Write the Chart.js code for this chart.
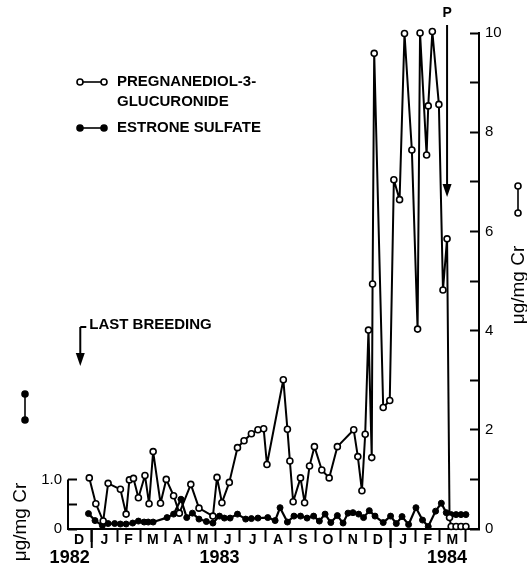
<!DOCTYPE html>
<html>
<head>
<meta charset="utf-8">
<script src="https://cdn.jsdelivr.net/npm/chart.js@4.4.1/dist/chart.umd.min.js"></script>
<style>
  html, body { margin: 0; padding: 0; background: #fff; }
  canvas { display: block; }
</style>
</head>
<body>
<canvas id="chart" width="527" height="572"></canvas>
<script>
// --- DATA ---
const pdgDates = [
  "1982-12-29", "1983-01-06", "1983-01-15", "1983-01-21", "1983-02-05", "1983-02-12",
  "1983-02-16", "1983-02-21", "1983-02-27", "1983-03-07", "1983-03-12", "1983-03-17",
  "1983-03-26", "1983-04-02", "1983-04-11", "1983-04-18", "1983-05-02", "1983-05-12",
  "1983-05-29", "1983-06-03", "1983-06-09", "1983-06-18", "1983-06-28", "1983-07-06",
  "1983-07-15", "1983-07-23", "1983-07-30", "1983-08-03", "1983-08-23", "1983-08-28",
  "1983-08-31", "1983-09-04", "1983-09-13", "1983-09-18", "1983-09-24", "1983-09-30",
  "1983-10-09", "1983-10-18", "1983-10-28", "1983-11-17", "1983-11-22", "1983-11-27",
  "1983-12-01", "1983-12-05", "1983-12-09", "1983-12-10", "1983-12-12", "1983-12-23",
  "1983-12-31", "1984-01-05", "1984-01-12", "1984-01-18", "1984-01-27", "1984-02-03",
  "1984-02-06", "1984-02-14", "1984-02-16", "1984-02-21", "1984-02-29", "1984-03-05",
  "1984-03-10", "1984-03-13", "1984-03-15", "1984-03-21", "1984-03-27", "1984-04-02",
];
const pdgValues = [
  1.03, 0.51, 0.16, 0.92, 0.80, 0.30,
  0.99, 1.02, 0.63, 1.08, 0.51, 1.56,
  0.52, 1.00, 0.67, 0.32, 0.90, 0.42,
  0.26, 1.04, 0.53, 0.94, 1.64, 1.78,
  1.92, 2.00, 2.02, 1.30, 3.01, 2.01,
  1.37, 0.55, 1.03, 0.53, 1.27, 1.66,
  1.19, 1.03, 1.66, 2.00, 1.46, 0.77,
  1.91, 4.01, 1.44, 4.94, 9.59, 2.45,
  2.59, 7.04, 6.64, 9.99, 7.64, 4.03,
  10.0, 7.54, 8.53, 10.03, 8.56, 4.82,
  5.85, 0.23, 0.05, 0.05, 0.05, 0.05,
];

const e1sDates = [
  "1982-12-28", "1983-01-05", "1983-01-14", "1983-01-21", "1983-01-29", "1983-02-05",
  "1983-02-12", "1983-02-20", "1983-02-27", "1983-03-06", "1983-03-11", "1983-03-17",
  "1983-04-03", "1983-04-11", "1983-04-20", "1983-04-27", "1983-05-04", "1983-05-12",
  "1983-05-21", "1983-05-29", "1983-06-06", "1983-06-12", "1983-06-19", "1983-06-28",
  "1983-07-08", "1983-07-15", "1983-07-23", "1983-08-04", "1983-08-13", "1983-08-19",
  "1983-08-28", "1983-09-05", "1983-09-13", "1983-09-21", "1983-09-29", "1983-10-06",
  "1983-10-13", "1983-10-20", "1983-10-28", "1983-11-04", "1983-11-10", "1983-11-16",
  "1983-11-23", "1983-11-29", "1983-12-06", "1983-12-13", "1983-12-23", "1984-01-01",
  "1984-01-08", "1984-01-15", "1984-01-23", "1984-02-01", "1984-02-09", "1984-02-16",
  "1984-02-25", "1984-03-03", "1984-03-09", "1984-03-15", "1984-03-21", "1984-03-27",
  "1984-04-02",
];
const e1sValues = [
  0.31, 0.17, 0.07, 0.11, 0.11, 0.10,
  0.10, 0.12, 0.16, 0.14, 0.14, 0.14,
  0.23, 0.30, 0.60, 0.23, 0.32, 0.20,
  0.15, 0.12, 0.26, 0.22, 0.22, 0.30,
  0.20, 0.21, 0.22, 0.23, 0.17, 0.43,
  0.14, 0.26, 0.26, 0.22, 0.26, 0.16,
  0.30, 0.13, 0.27, 0.12, 0.32, 0.33,
  0.30, 0.23, 0.37, 0.26, 0.13, 0.26,
  0.11, 0.25, 0.09, 0.43, 0.18, 0.05,
  0.36, 0.52, 0.33, 0.29, 0.29, 0.29,
  0.29,
];

const monthLetters = ["D", "J", "F", "M", "A", "M", "J", "J", "A", "S", "O", "N", "D", "J", "F", "M"];
const yearLabels = ["1982", "1983", "1984"];
const yearLabelDates = ["1982-12-05", "1983-06-06", "1984-03-10"];
const leftTickValues = [0, 0.5, 1.0];
const lastBreedingDate = "1982-12-18";
const parturitionDate = "1984-03-10";

// --- HELPERS ---
const ORIGIN = Date.parse("1982-12-01");
const dayOf = (s) => (Date.parse(s) - ORIGIN) / 864e5;

const X_MIN = 2;
const X_MAX = 504;

const monthStarts = [];
for (let i = 0; i <= monthLetters.length; i++) {
  monthStarts.push((Date.UTC(1982, 11 + i, 1) - ORIGIN) / 864e5);
}
const monthMids = monthLetters.map((_, i) => (monthStarts[i] + monthStarts[i + 1]) / 2);
const midLabel = new Map(monthMids.map((m, i) => [m, monthLetters[i]]));
const yearStarts = [dayOf("1983-01-01"), dayOf("1984-01-01")];

const FONT = "Liberation Sans";

function arrowDown(ctx, x, yTop, yTip) {
  ctx.beginPath();
  ctx.moveTo(x, yTop);
  ctx.lineTo(x, yTip - 8);
  ctx.stroke();
  ctx.beginPath();
  ctx.moveTo(x - 4.5, yTip - 13);
  ctx.lineTo(x + 4.5, yTip - 13);
  ctx.lineTo(x, yTip);
  ctx.closePath();
  ctx.fill();
}

function dot(ctx, x, y, filled) {
  ctx.beginPath();
  ctx.arc(x, y, 3, 0, Math.PI * 2);
  ctx.fillStyle = filled ? "#000" : "#fff";
  ctx.fill();
  ctx.stroke();
  ctx.fillStyle = "#000";
}

// extra annotations: legend, arrows, axis titles, short left axis
const decorations = {
  id: "decorations",
  afterDraw(chart) {
    const { ctx, chartArea, scales } = chart;
    const xs = scales.x;
    const ys = scales.y;
    ctx.save();
    ctx.strokeStyle = "#000";
    ctx.fillStyle = "#000";
    ctx.lineWidth = 2;

    // left axis only runs 0 -> 1.0
    ctx.beginPath();
    ctx.moveTo(chartArea.left, ys.getPixelForValue(0) + 1);
    ctx.lineTo(chartArea.left, ys.getPixelForValue(1));
    ctx.stroke();

    // longer ticks at year boundaries
    yearStarts.forEach((d) => {
      const px = xs.getPixelForValue(d);
      ctx.beginPath();
      ctx.moveTo(px, chartArea.bottom);
      ctx.lineTo(px, chartArea.bottom + 19);
      ctx.stroke();
    });

    // legend
    ctx.font = `bold 15px "${FONT}"`;
    ctx.textBaseline = "middle";
    ctx.textAlign = "left";
    ctx.lineWidth = 1.6;
    ctx.beginPath();
    ctx.moveTo(80, 82);
    ctx.lineTo(104, 82);
    ctx.stroke();
    dot(ctx, 80, 82, false);
    dot(ctx, 104, 82, false);
    ctx.fillText("PREGNANEDIOL-3-", 117, 82);
    ctx.fillText("GLUCURONIDE", 117, 102);
    ctx.beginPath();
    ctx.moveTo(80, 128);
    ctx.lineTo(104, 128);
    ctx.stroke();
    dot(ctx, 80, 128, true);
    dot(ctx, 104, 128, true);
    ctx.fillText("ESTRONE SULFATE", 117, 128);

    // last breeding arrow
    ctx.lineWidth = 2;
    const lbx = xs.getPixelForValue(dayOf(lastBreedingDate));
    ctx.beginPath();
    ctx.moveTo(lbx + 6, 327);
    ctx.lineTo(lbx, 327);
    ctx.stroke();
    arrowDown(ctx, lbx, 327, 366);
    ctx.fillText("LAST BREEDING", lbx + 9, 325);

    // parturition arrow
    const px = xs.getPixelForValue(dayOf(parturitionDate));
    arrowDown(ctx, px, 25, 197);
    ctx.textAlign = "center";
    ctx.font = `bold 14px "${FONT}"`;
    ctx.fillText("P", px, 13);

    // axis series glyphs
    ctx.lineWidth = 1.6;
    ctx.beginPath();
    ctx.moveTo(518, 186);
    ctx.lineTo(518, 213);
    ctx.stroke();
    dot(ctx, 518, 186, false);
    dot(ctx, 518, 213, false);
    ctx.beginPath();
    ctx.moveTo(25, 394);
    ctx.lineTo(25, 420);
    ctx.stroke();
    dot(ctx, 25, 394, true);
    dot(ctx, 25, 420, true);

    // axis titles, both reading bottom to top
    ctx.font = `19px "${FONT}"`;
    [[519, 285], [21, 522]].forEach(([tx, ty]) => {
      ctx.save();
      ctx.translate(tx, ty);
      ctx.rotate(-Math.PI / 2);
      ctx.fillText("\u03bcg/mg Cr", 0, 0);
      ctx.restore();
    });

    ctx.restore();
  },
};

// --- CHART ---
const ctx = document.getElementById("chart").getContext("2d");
new Chart(ctx, {
  type: "line",
  data: {
    datasets: [
      {
        label: "PREGNANEDIOL-3-GLUCURONIDE",
        data: pdgDates.map((d, i) => ({ x: dayOf(d), y: pdgValues[i] })),
        borderColor: "#000",
        borderWidth: 2,
        borderJoinStyle: "round",
        pointRadius: 3,
        pointBorderWidth: 1.6,
        pointBackgroundColor: "#fff",
        pointBorderColor: "#000",
        tension: 0,
        clip: false,
        xAxisID: "x",
        yAxisID: "y",
      },
      {
        label: "ESTRONE SULFATE",
        data: e1sDates.map((d, i) => ({ x: dayOf(d), y: e1sValues[i] })),
        borderColor: "#000",
        borderWidth: 2.2,
        borderJoinStyle: "round",
        pointRadius: 3,
        pointBorderWidth: 1,
        pointBackgroundColor: "#000",
        pointBorderColor: "#000",
        tension: 0,
        clip: false,
        xAxisID: "x",
        yAxisID: "y",
      },
    ],
  },
  options: {
    responsive: false,
    animation: false,
    devicePixelRatio: 1,
    layout: { padding: { top: 33, left: 0, right: 0, bottom: 0 } },
    plugins: { legend: { display: false }, tooltip: { enabled: false } },
    scales: {
      x: {
        type: "linear",
        position: "bottom",
        weight: 0,
        min: X_MIN,
        max: X_MAX,
        afterBuildTicks: (axis) => {
          const vals = monthStarts.concat(monthMids).filter((v) => v > X_MIN && v < X_MAX);
          vals.sort((a, b) => a - b);
          axis.ticks = vals.map((v) => ({ value: v }));
        },
        afterFit: (axis) => { axis.height = 21; },
        border: { display: true, color: "#000", width: 2 },
        grid: {
          drawOnChartArea: false,
          tickLength: 13,
          tickWidth: 2,
          tickColor: (c) => (c.tick && midLabel.has(c.tick.value) ? "rgba(0,0,0,0)" : "#000"),
        },
        ticks: {
          autoSkip: false,
          maxRotation: 0,
          padding: -10,
          color: "#000",
          font: { family: FONT, size: 14, weight: "bold" },
          callback: (v) => midLabel.get(v) || "",
        },
      },
      x2: {
        type: "linear",
        position: "bottom",
        weight: 1,
        min: X_MIN,
        max: X_MAX,
        afterBuildTicks: (axis) => {
          axis.ticks = yearLabelDates.map((d) => ({ value: dayOf(d) }));
        },
        afterFit: (axis) => { axis.height = 22; },
        border: { display: false },
        grid: { display: false, drawTicks: false },
        ticks: {
          autoSkip: false,
          maxRotation: 0,
          padding: -3,
          color: "#000",
          font: { family: FONT, size: 18, weight: "bold" },
          callback: (v, i) => yearLabels[i],
        },
      },
      y: {
        type: "linear",
        position: "right",
        min: 0,
        max: 10,
        afterFit: (axis) => { axis.width = 48; },
        border: { display: true, color: "#000", width: 2 },
        grid: { drawOnChartArea: false, tickLength: -9, tickWidth: 2, tickColor: "#000" },
        ticks: {
          stepSize: 1,
          padding: 15,
          color: "#000",
          font: { family: FONT, size: 15 },
          callback: (v) => (v % 2 === 0 ? String(v) : ""),
        },
      },
      yL: {
        type: "linear",
        position: "left",
        min: 0,
        max: 10,
        afterBuildTicks: (axis) => {
          axis.ticks = leftTickValues.map((v) => ({ value: v }));
        },
        afterFit: (axis) => { axis.width = 68; },
        border: { display: false },
        grid: { drawOnChartArea: false, tickLength: -9, tickWidth: 2, tickColor: "#000" },
        ticks: {
          padding: 15,
          color: "#000",
          font: { family: FONT, size: 15 },
          callback: (v) => (v === 0 ? "0" : v === 1 ? "1.0" : ""),
        },
      },
    },
  },
  plugins: [decorations],
});
</script>
</body>
</html>
